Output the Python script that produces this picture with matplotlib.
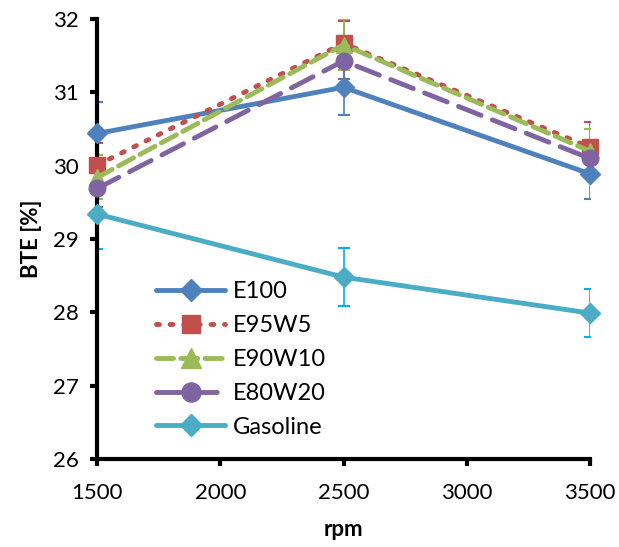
import matplotlib
matplotlib.use("Agg")
import matplotlib.pyplot as plt

rpm = [1500, 2500, 3500]
e100 = [30.44, 31.07, 29.89]
e95w5 = [30.01, 31.67, 30.25]
e90w10 = [29.84, 31.65, 30.20]
e80w20 = [29.69, 31.43, 30.10]
gasoline = [29.34, 28.48, 27.99]
err_e100 = [0.43, 0.38, 0.35]
err_e95w5 = [0.30, 0.30, 0.35]
err_e90w10 = [0.30, 0.35, 0.30]
err_e80w20 = [0.25, 0.25, 0.25]
err_gas = [0.47, 0.40, 0.33]

plt.rcParams['font.family'] = ['Lato', 'DejaVu Sans']
fig = plt.figure(figsize=(6.19, 5.47), dpi=100)
ax = fig.add_axes([0.157, 0.161, 0.796, 0.804])

series = [
    ("E100", e100, err_e100, "#4F81BD", "-", "D", 10, "#4F81BD"),
    ("E95W5", e95w5, err_e95w5, "#C0504D", (0, (0.6, 2.2)), "s", 11, "#C0504D"),
    ("E90W10", e90w10, err_e90w10, "#9BBB59", (0, (3.5, 1.5)), "^", 12, "#9BBB59"),
    ("E80W20", e80w20, err_e80w20, "#8064A2", (0, (5, 2.5)), "o", 12, "#8064A2"),
    ("Gasoline", gasoline, err_gas, "#4BACC6", "-", "D", 10, "#00B0F0"),
]
for name, y, e, c, ls, m, ms, ec in series:
    ax.errorbar(rpm, y, yerr=e, fmt='none', ecolor=ec, elinewidth=1.2,
                capsize=4, capthick=1.5, zorder=2)
    ax.plot(rpm, y, color=c, linestyle=ls, linewidth=3.5, marker=m,
            markersize=ms, label=name, zorder=3, dash_capstyle='round',
            solid_capstyle='round', clip_on=False)

ax.set_xlim(1500, 3500)
ax.set_ylim(26, 32)
ax.set_xticks([1500, 2000, 2500, 3000, 3500])
ax.set_yticks([26, 27, 28, 29, 30, 31, 32])
for s in ['top', 'right']:
    ax.spines[s].set_visible(False)
for s in ['left', 'bottom']:
    ax.spines[s].set_linewidth(3)
ax.tick_params(axis='both', direction='out', width=3, length=5, labelsize=16)
ax.tick_params(axis='x', pad=12)
ax.tick_params(axis='y', pad=8)
ax.set_xlabel("rpm", fontsize=16, fontweight='bold', labelpad=12)
ax.set_ylabel("BTE [%]", fontsize=16, fontweight='bold', labelpad=8)

leg = ax.legend(loc='upper left', bbox_to_anchor=(0.12, 0.405), frameon=False,
                fontsize=17, handlelength=2.9, labelspacing=0.55, handletextpad=0.35,
                borderpad=0, borderaxespad=0, markerscale=1.15)
fig.savefig("out.png", dpi=100)
